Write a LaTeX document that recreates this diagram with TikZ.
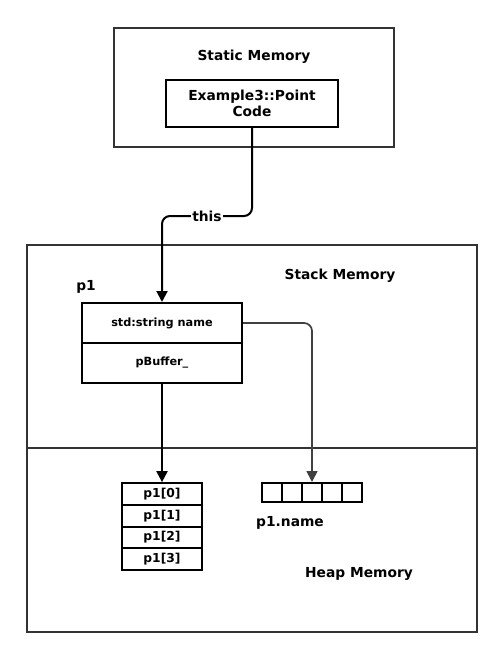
\documentclass[tikz,border=0pt]{standalone}
\usepackage{fontspec}
\setmainfont{DejaVu Sans}
\usetikzlibrary{arrows.meta}

\begin{document}
\begin{tikzpicture}[x=1pt, y=-1pt, font=\bfseries\fontsize{13.8}{16}\selectfont, >={Triangle[length=11pt, width=11pt]}]
        \tikzstyle{region}=[rectangle, draw=black!80, line width=1.6pt, inner sep=0pt]
        \tikzstyle{box}=[rectangle, draw=black, line width=2pt, inner sep=0pt, align=center]
        \tikzstyle{field}=[box, minimum width=160pt, minimum height=40pt, font=\bfseries\fontsize{11.3}{13}\selectfont]
        \tikzstyle{slot}=[box, minimum width=80pt, minimum height=21.75pt, font=\bfseries\fontsize{12.3}{13}\selectfont]
        \tikzstyle{cell}=[box, minimum width=20pt, minimum height=19pt]
        \tikzstyle{link}=[line width=2pt, rounded corners=8pt]

        \useasboundingbox (0,0) rectangle (496,652);

        % memory regions
        \node[region, minimum width=280pt, minimum height=119pt] (static) at (254,87.5) {};
        \node[region, minimum width=450pt, minimum height=203pt] (stack) at (252,346.5) {};
        \node[region, minimum width=450pt, minimum height=184pt] (heap) at (252,540) {};
        \node (staticlbl) at (254,57) {Static Memory};
        \node (stacklbl) at (340,276) {Stack Memory};
        \node (heaplbl) at (359,574) {Heap Memory};

        % code and object p1
        \node[box, minimum width=172pt, minimum height=47pt, font=\bfseries\fontsize{13.8}{16}\selectfont] (code) at (252,103.5) {Example3::Point\\Code};
        \node (p1lbl) at (86,287) {p1};
        \node[field] (fname) at (162,323) {std:string name};
        \node[field] (fbuf) at (162,363) {pBuffer\_};

        % buffer p1[0..3]
        \foreach \i in {0,...,3}
            \node[slot] (slot\i) at (162,{494+\i*21.75}) {p1[\i]};

        % characters of p1.name
        \foreach \j in {1,...,5}
            \node[cell] (chr\j) at ({252+\j*20},492.5) {};
        \node (namelbl) at (290,523) {p1.name};

        \coordinate (bend) at (207,216);
        \draw[link, ->] (code.south) |- (bend) -| (fname.north);
        \node[fill=white, inner sep=1pt] (this) at (bend) {this};
        \draw[link, ->] (fbuf.south) -- (slot0.north);
        \draw[link, draw=black!75, line width=1.7pt, ->] (fname.east) -| (chr3.north);
    \end{tikzpicture}
\end{document}
